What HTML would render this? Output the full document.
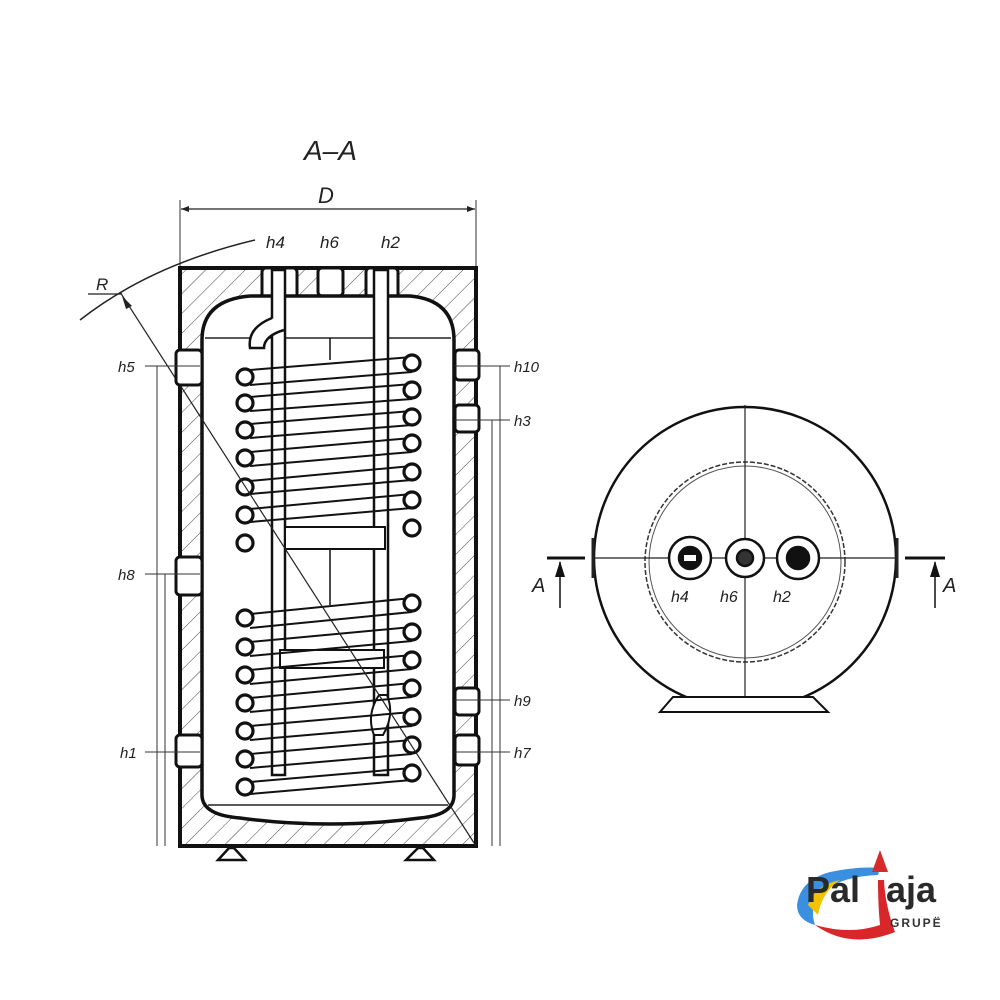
<!DOCTYPE html>
<html><head><meta charset="utf-8"><style>
html,body{margin:0;padding:0;background:#fff;width:1000px;height:1000px;overflow:hidden}
svg{display:block}
text{font-family:"Liberation Sans",sans-serif;font-style:italic;fill:#222}
</style></head><body>
<svg width="1000" height="1000" viewBox="0 0 1000 1000">
<defs>
<pattern id="h" width="14" height="14" patternUnits="userSpaceOnUse" patternTransform="rotate(45)">
<rect width="14" height="14" fill="#fff"/><line x1="0" y1="0" x2="0" y2="14" stroke="#444" stroke-width="1"/>
</pattern>
</defs>
<text x="304" y="160" font-size="28">A–A</text>
<text x="318" y="203" font-size="22">D</text>
<line x1="180" y1="200" x2="180" y2="268" stroke="#333" stroke-width="1"/>
<line x1="476" y1="200" x2="476" y2="268" stroke="#333" stroke-width="1"/>
<line x1="181" y1="209" x2="475" y2="209" stroke="#222" stroke-width="1.3"/>
<path d="M181 209l8-3v6zM475 209l-8-3v6z" fill="#222"/>
<text x="266" y="248" font-size="17">h4</text>
<text x="320" y="248" font-size="17">h6</text>
<text x="381" y="248" font-size="17">h2</text>
<path d="M80 320 Q150 265 255 240" fill="none" stroke="#222" stroke-width="1.5"/>
<text x="96" y="290" font-size="17">R</text>
<line x1="88" y1="294" x2="122" y2="294" stroke="#222" stroke-width="1.2"/>
<line x1="120" y1="292" x2="476" y2="846" stroke="#222" stroke-width="1.2"/>
<path d="M122 296l10 10l-6 3z" fill="#222"/>
<rect x="180" y="268" width="296" height="578" fill="url(#h)" stroke="#111" stroke-width="4"/>
<rect x="262" y="268" width="35" height="30" fill="#fff" stroke="#111" stroke-width="3" rx="4"/>
<rect x="318" y="268" width="25" height="28" fill="#fff" stroke="#111" stroke-width="3" rx="4"/>
<rect x="366" y="268" width="32" height="30" fill="#fff" stroke="#111" stroke-width="3" rx="4"/>
<path d="M202 340 Q202 300 250 296 L410 296 Q454 300 454 340 L454 795 Q454 815 420 818 Q330 830 240 818 Q202 815 202 795 Z" fill="#fff" stroke="#111" stroke-width="3.5"/>
<line x1="205" y1="338" x2="451" y2="338" stroke="#222" stroke-width="1.5"/>
<line x1="208" y1="805" x2="448" y2="805" stroke="#222" stroke-width="1.5"/>
<rect x="272" y="270" width="13" height="505" fill="#fff" stroke="#111" stroke-width="2.5"/>
<rect x="374" y="270" width="14" height="505" fill="#fff" stroke="#111" stroke-width="2.5"/>
<path d="M272 318 q-25 10 -22 30 l14 0 q0-12 20-18" fill="#fff" stroke="#111" stroke-width="2.5"/>
<path d="M374 735 q-8-20 5-40 l8 0 q8 20 -4 40z" fill="#fff" stroke="#111" stroke-width="2"/>
<line x1="285" y1="338" x2="285" y2="775" stroke="#111" stroke-width="2"/>
<line x1="330" y1="338" x2="330" y2="360" stroke="#111" stroke-width="1.5"/>
<line x1="330" y1="545" x2="330" y2="605" stroke="#111" stroke-width="1.5"/>
<rect x="285" y="527" width="100" height="22" fill="#fff" stroke="#111" stroke-width="2"/>
<rect x="280" y="650" width="104" height="18" fill="#fff" stroke="#111" stroke-width="2"/>
<g stroke="#111" stroke-width="2" fill="none">
<path d="M250 370 L412 357 M250 385 L412 372"/>
<path d="M250 397 L412 384 M250 411 L412 399"/>
<path d="M250 424 L412 411 M250 438 L412 425"/>
<path d="M250 452 L412 438 M250 466 L412 452"/>
<path d="M250 481 L412 466 M250 494 L412 480"/>
<path d="M250 509 L412 494 M250 522 L412 508"/>
<path d="M250 614 L412 598 M250 628 L412 612"/>
<path d="M250 642 L412 627 M250 656 L412 641"/>
<path d="M250 670 L412 655 M250 684 L412 669"/>
<path d="M250 698 L412 683 M250 712 L412 697"/>
<path d="M250 726 L412 712 M250 740 L412 726"/>
<path d="M250 754 L412 740 M250 768 L412 754"/>
<path d="M250 782 L412 768 M250 794 L412 780"/>
</g>
<g fill="#fff" stroke="#111" stroke-width="3.2">
<circle cx="245" cy="377" r="8"/><circle cx="245" cy="403" r="8"/><circle cx="245" cy="430" r="8"/><circle cx="245" cy="458" r="8"/><circle cx="245" cy="487" r="8"/><circle cx="245" cy="515" r="8"/><circle cx="245" cy="543" r="8"/>
<circle cx="412" cy="363" r="8"/><circle cx="412" cy="390" r="8"/><circle cx="412" cy="417" r="8"/><circle cx="412" cy="443" r="8"/><circle cx="412" cy="472" r="8"/><circle cx="412" cy="500" r="8"/><circle cx="412" cy="528" r="8"/>
<circle cx="245" cy="618" r="8"/><circle cx="245" cy="647" r="8"/><circle cx="245" cy="675" r="8"/><circle cx="245" cy="703" r="8"/><circle cx="245" cy="731" r="8"/><circle cx="245" cy="759" r="8"/><circle cx="245" cy="787" r="8"/>
<circle cx="412" cy="603" r="8"/><circle cx="412" cy="632" r="8"/><circle cx="412" cy="660" r="8"/><circle cx="412" cy="688" r="8"/><circle cx="412" cy="717" r="8"/><circle cx="412" cy="745" r="8"/><circle cx="412" cy="773" r="8"/>
</g>
<line x1="180" y1="385" x2="476" y2="846" stroke="#222" stroke-width="1.2"/>
<g fill="#fff" stroke="#111" stroke-width="3">
<rect x="176" y="350" width="26" height="35" rx="4"/>
<rect x="176" y="557" width="26" height="38" rx="4"/>
<rect x="176" y="735" width="26" height="32" rx="4"/>
<rect x="455" y="350" width="24" height="30" rx="4"/>
<rect x="455" y="405" width="24" height="27" rx="4"/>
<rect x="455" y="688" width="24" height="27" rx="4"/>
<rect x="455" y="735" width="24" height="30" rx="4"/>
</g>
<path d="M218 860 L245 860 L234 848 L229 848 Z M406 860 L434 860 L423 848 L418 848 Z" fill="#fff" stroke="#111" stroke-width="2.5"/>
<g stroke="#333" stroke-width="1">
<line x1="145" y1="366" x2="200" y2="366"/><line x1="145" y1="574" x2="200" y2="574"/><line x1="145" y1="752" x2="200" y2="752"/>
<line x1="157" y1="366" x2="157" y2="846"/>
<line x1="165" y1="574" x2="165" y2="846"/>
<line x1="455" y1="366" x2="510" y2="366"/><line x1="455" y1="420" x2="510" y2="420"/><line x1="455" y1="700" x2="510" y2="700"/><line x1="455" y1="752" x2="510" y2="752"/>
<line x1="500" y1="366" x2="500" y2="846"/>
<line x1="492" y1="420" x2="492" y2="846"/>
</g>
<text x="118" y="372" font-size="15">h5</text>
<text x="118" y="580" font-size="15">h8</text>
<text x="120" y="758" font-size="15">h1</text>
<text x="514" y="372" font-size="15">h10</text>
<text x="514" y="426" font-size="15">h3</text>
<text x="514" y="706" font-size="15">h9</text>
<text x="514" y="758" font-size="15">h7</text>
<circle cx="745" cy="558" r="151" fill="#fff" stroke="#111" stroke-width="2.5"/>
<circle cx="745" cy="562" r="100" fill="none" stroke="#333" stroke-width="1.5" stroke-dasharray="5 2"/>
<circle cx="745" cy="562" r="96" fill="none" stroke="#555" stroke-width="1"/>
<line x1="745" y1="405" x2="745" y2="710" stroke="#222" stroke-width="1.2"/>
<line x1="592" y1="558" x2="898" y2="558" stroke="#222" stroke-width="1.2"/>
<path d="M593 538 v40 M897 538 v40" stroke="#222" stroke-width="3"/>
<g stroke="#111" stroke-width="2.5">
<circle cx="690" cy="558" r="21" fill="#fff"/><circle cx="690" cy="558" r="11" fill="#111"/>
<circle cx="745" cy="558" r="19" fill="#fff"/><circle cx="745" cy="558" r="8" fill="#333"/>
<circle cx="798" cy="558" r="21" fill="#fff"/><circle cx="798" cy="558" r="11" fill="#111"/>
</g>
<rect x="684" y="555" width="12" height="6" fill="#fff"/>
<text x="671" y="602" font-size="16">h4</text>
<text x="720" y="602" font-size="16">h6</text>
<text x="773" y="602" font-size="16">h2</text>
<path d="M673 697 L813 697 L828 712 L660 712 Z" fill="#fff" stroke="#111" stroke-width="2"/>
<line x1="547" y1="558" x2="585" y2="558" stroke="#111" stroke-width="3"/>
<line x1="905" y1="558" x2="945" y2="558" stroke="#111" stroke-width="3"/>
<line x1="560" y1="562" x2="560" y2="608" stroke="#111" stroke-width="1.5"/>
<path d="M560 561 l-5 16 h10 z" fill="#111"/>
<line x1="935" y1="562" x2="935" y2="608" stroke="#111" stroke-width="1.5"/>
<path d="M935 561 l-5 16 h10 z" fill="#111"/>
<text x="532" y="592" font-size="20">A</text>
<text x="943" y="592" font-size="20">A</text>
<!-- logo -->
<path d="M797 905 Q800 880 830 872 Q860 866 880 868 L878 875 Q845 876 825 890 Q808 905 815 925 Q797 920 797 905Z" fill="#3a8fe0"/>
<path d="M815 925 Q850 950 895 932 Q885 905 884 880 L878 880 Q878 905 880 925 Q850 935 815 925Z" fill="#d9262a"/>
<path d="M808 905 Q815 885 840 880 Q822 892 818 915Z" fill="#f2c200"/>
<path d="M880 850 L888 872 L872 872Z" fill="#d62b2b"/>
<text x="806" y="902" font-size="36" font-weight="bold" style="font-style:normal;fill:#2a2a2a">Pal</text>
<text x="886" y="902" font-size="36" font-weight="bold" style="font-style:normal;fill:#2a2a2a">aja</text>
<text x="890" y="927" font-size="12" font-weight="bold" style="font-style:normal;fill:#333;letter-spacing:2px">GRUPË</text>
</svg>
</body></html>
